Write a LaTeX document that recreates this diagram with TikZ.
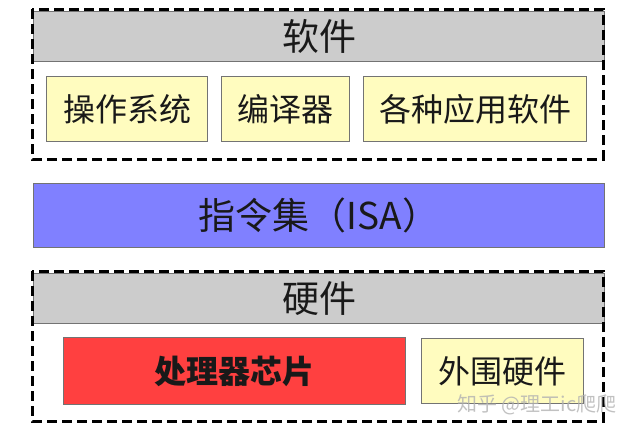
\documentclass[tikz,border=0pt]{standalone}
\usepackage{fontspec}
\newfontfamily\cjk{Noto Sans CJK SC}
\begin{document}
\begin{tikzpicture}[x=1pt,y=-1pt,
  box/.style={draw=black!55,line width=1.2pt,inner sep=0pt,anchor=north west,font=\cjk\fontsize{32}{32}\selectfont,text=black!90},
  soft/.style={box,fill=yellow!25},
  header/.style={box,fill=black!20,font=\cjk\fontsize{37}{37}\selectfont},
  group/.style={draw=black,line width=3pt,dash pattern=on 10pt off 5pt}]
\useasboundingbox (0,0) rectangle (627,431);
\fill[white] (0,0) rectangle (627,431);
% software
\node[header,minimum width=571pt,minimum height=50pt] (sw) at (33,11) {软件};
\node[soft,minimum width=161pt,minimum height=65pt] (os) at (46,76) {操作系统};
\node[soft,minimum width=128pt,minimum height=65pt] (cc) at (221,76) {编译器};
\node[soft,minimum width=223pt,minimum height=65pt] (app) at (363,76) {各种应用软件};
\draw[group] (32,9) rectangle (603,159);
% ISA
\node[box,fill={rgb,255:red,128;green,128;blue,255},minimum width=571pt,minimum height=64pt,font=\cjk\fontsize{37}{37}\selectfont] (isa) at (33,183) {指令集（ISA）};
% hardware
\node[header,minimum width=571pt,minimum height=50pt] (hw) at (33,273) {硬件};
\node[box,fill={rgb,255:red,255;green,64;blue,64},minimum width=342pt,minimum height=67pt,font=\cjk\bfseries\fontsize{32}{32}\selectfont] (cpu) at (63,337) {处理器芯片};
\node[soft,minimum width=162pt,minimum height=65pt] (per) at (421,338) {外围硬件};
\draw[group] (32,271) rectangle (603,421);
% watermark
\node[font=\cjk\fontsize{20}{20}\selectfont,text=black!30,opacity=0.8] (wm) at (537,405) {知乎 @理工ic爬爬};
\end{tikzpicture}
\end{document}
